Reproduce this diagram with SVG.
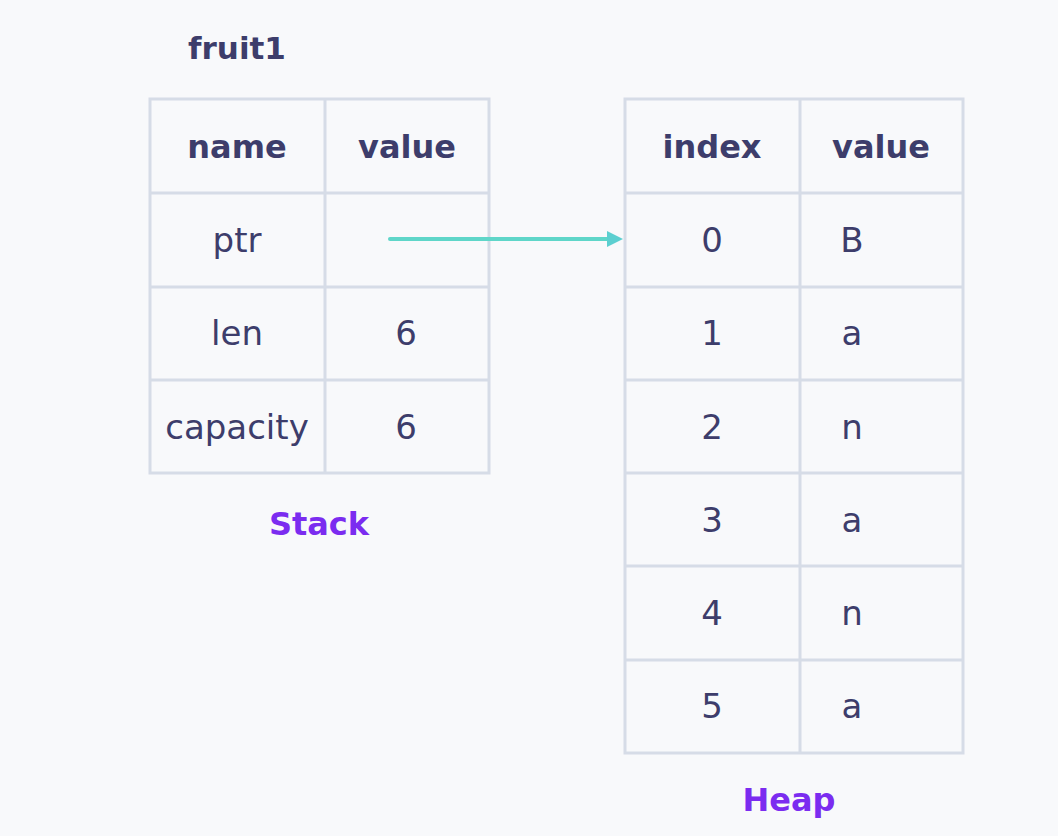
<svg xmlns="http://www.w3.org/2000/svg" width="1058" height="836" viewBox="0 0 1058 836">
<style>
.bg{fill:#f8f9fb}
.cell{fill:none;stroke:#d6dce7;stroke-width:3}
.t{font-family:"DejaVu Sans",sans-serif;font-size:34px;fill:#3d3d6b;text-anchor:middle;dominant-baseline:central}
.h{font-weight:bold;font-size:32px}
.lbl{font-family:"DejaVu Sans",sans-serif;font-size:32px;font-weight:bold;fill:#7b2cf0;text-anchor:middle;dominant-baseline:central}
.conn{stroke:#5fd6c9;stroke-width:4;stroke-linecap:round;fill:none}
</style>
<defs>
<marker id="ah" markerWidth="16" markerHeight="16" refX="8" refY="8" orient="auto" markerUnits="userSpaceOnUse" viewBox="0 0 16 16">
<path d="M0,0 L16,8 L0,16 Z" fill="#5ccfd0"/>
</marker>
</defs>
<rect class="bg" width="1058" height="836"/>
<g id="title"><text class="t h" x="237" y="48" style="font-size:31px">fruit1</text></g>
<g id="stack">
<rect class="cell" x="150" y="99" width="339" height="374"/>
<line class="cell" x1="325" y1="99" x2="325" y2="473"/>
<line class="cell" x1="150" y1="193" x2="489" y2="193"/>
<line class="cell" x1="150" y1="287" x2="489" y2="287"/>
<line class="cell" x1="150" y1="380" x2="489" y2="380"/>
<text class="t h" x="237" y="147">name</text>
<text class="t h" x="407" y="147">value</text>
<text class="t" x="237" y="240">ptr</text>
<text class="t" x="237" y="333">len</text>
<text class="t" x="406" y="333">6</text>
<text class="t" x="237" y="427">capacity</text>
<text class="t" x="406" y="427">6</text>
</g>
<g id="stack-label"><text class="lbl" x="319" y="524">Stack</text></g>
<g id="heap">
<rect class="cell" x="625" y="99" width="338" height="654"/>
<line class="cell" x1="800" y1="99" x2="800" y2="753"/>
<line class="cell" x1="625" y1="193" x2="963" y2="193"/>
<line class="cell" x1="625" y1="287" x2="963" y2="287"/>
<line class="cell" x1="625" y1="380" x2="963" y2="380"/>
<line class="cell" x1="625" y1="473" x2="963" y2="473"/>
<line class="cell" x1="625" y1="566" x2="963" y2="566"/>
<line class="cell" x1="625" y1="660" x2="963" y2="660"/>
<text class="t h" x="712" y="147">index</text>
<text class="t h" x="881" y="147">value</text>
<text class="t" x="712" y="240">0</text><text class="t" x="852" y="240">B</text>
<text class="t" x="712" y="333">1</text><text class="t" x="852" y="333">a</text>
<text class="t" x="712" y="427">2</text><text class="t" x="852" y="427">n</text>
<text class="t" x="712" y="520">3</text><text class="t" x="852" y="520">a</text>
<text class="t" x="712" y="613">4</text><text class="t" x="852" y="613">n</text>
<text class="t" x="712" y="706">5</text><text class="t" x="852" y="706">a</text>
</g>
<g id="heap-label"><text class="lbl" x="789" y="800">Heap</text></g>
<g id="connectors">
<line class="conn" x1="390" y1="239" x2="615" y2="239" marker-end="url(#ah)"/>
</g>
</svg>
